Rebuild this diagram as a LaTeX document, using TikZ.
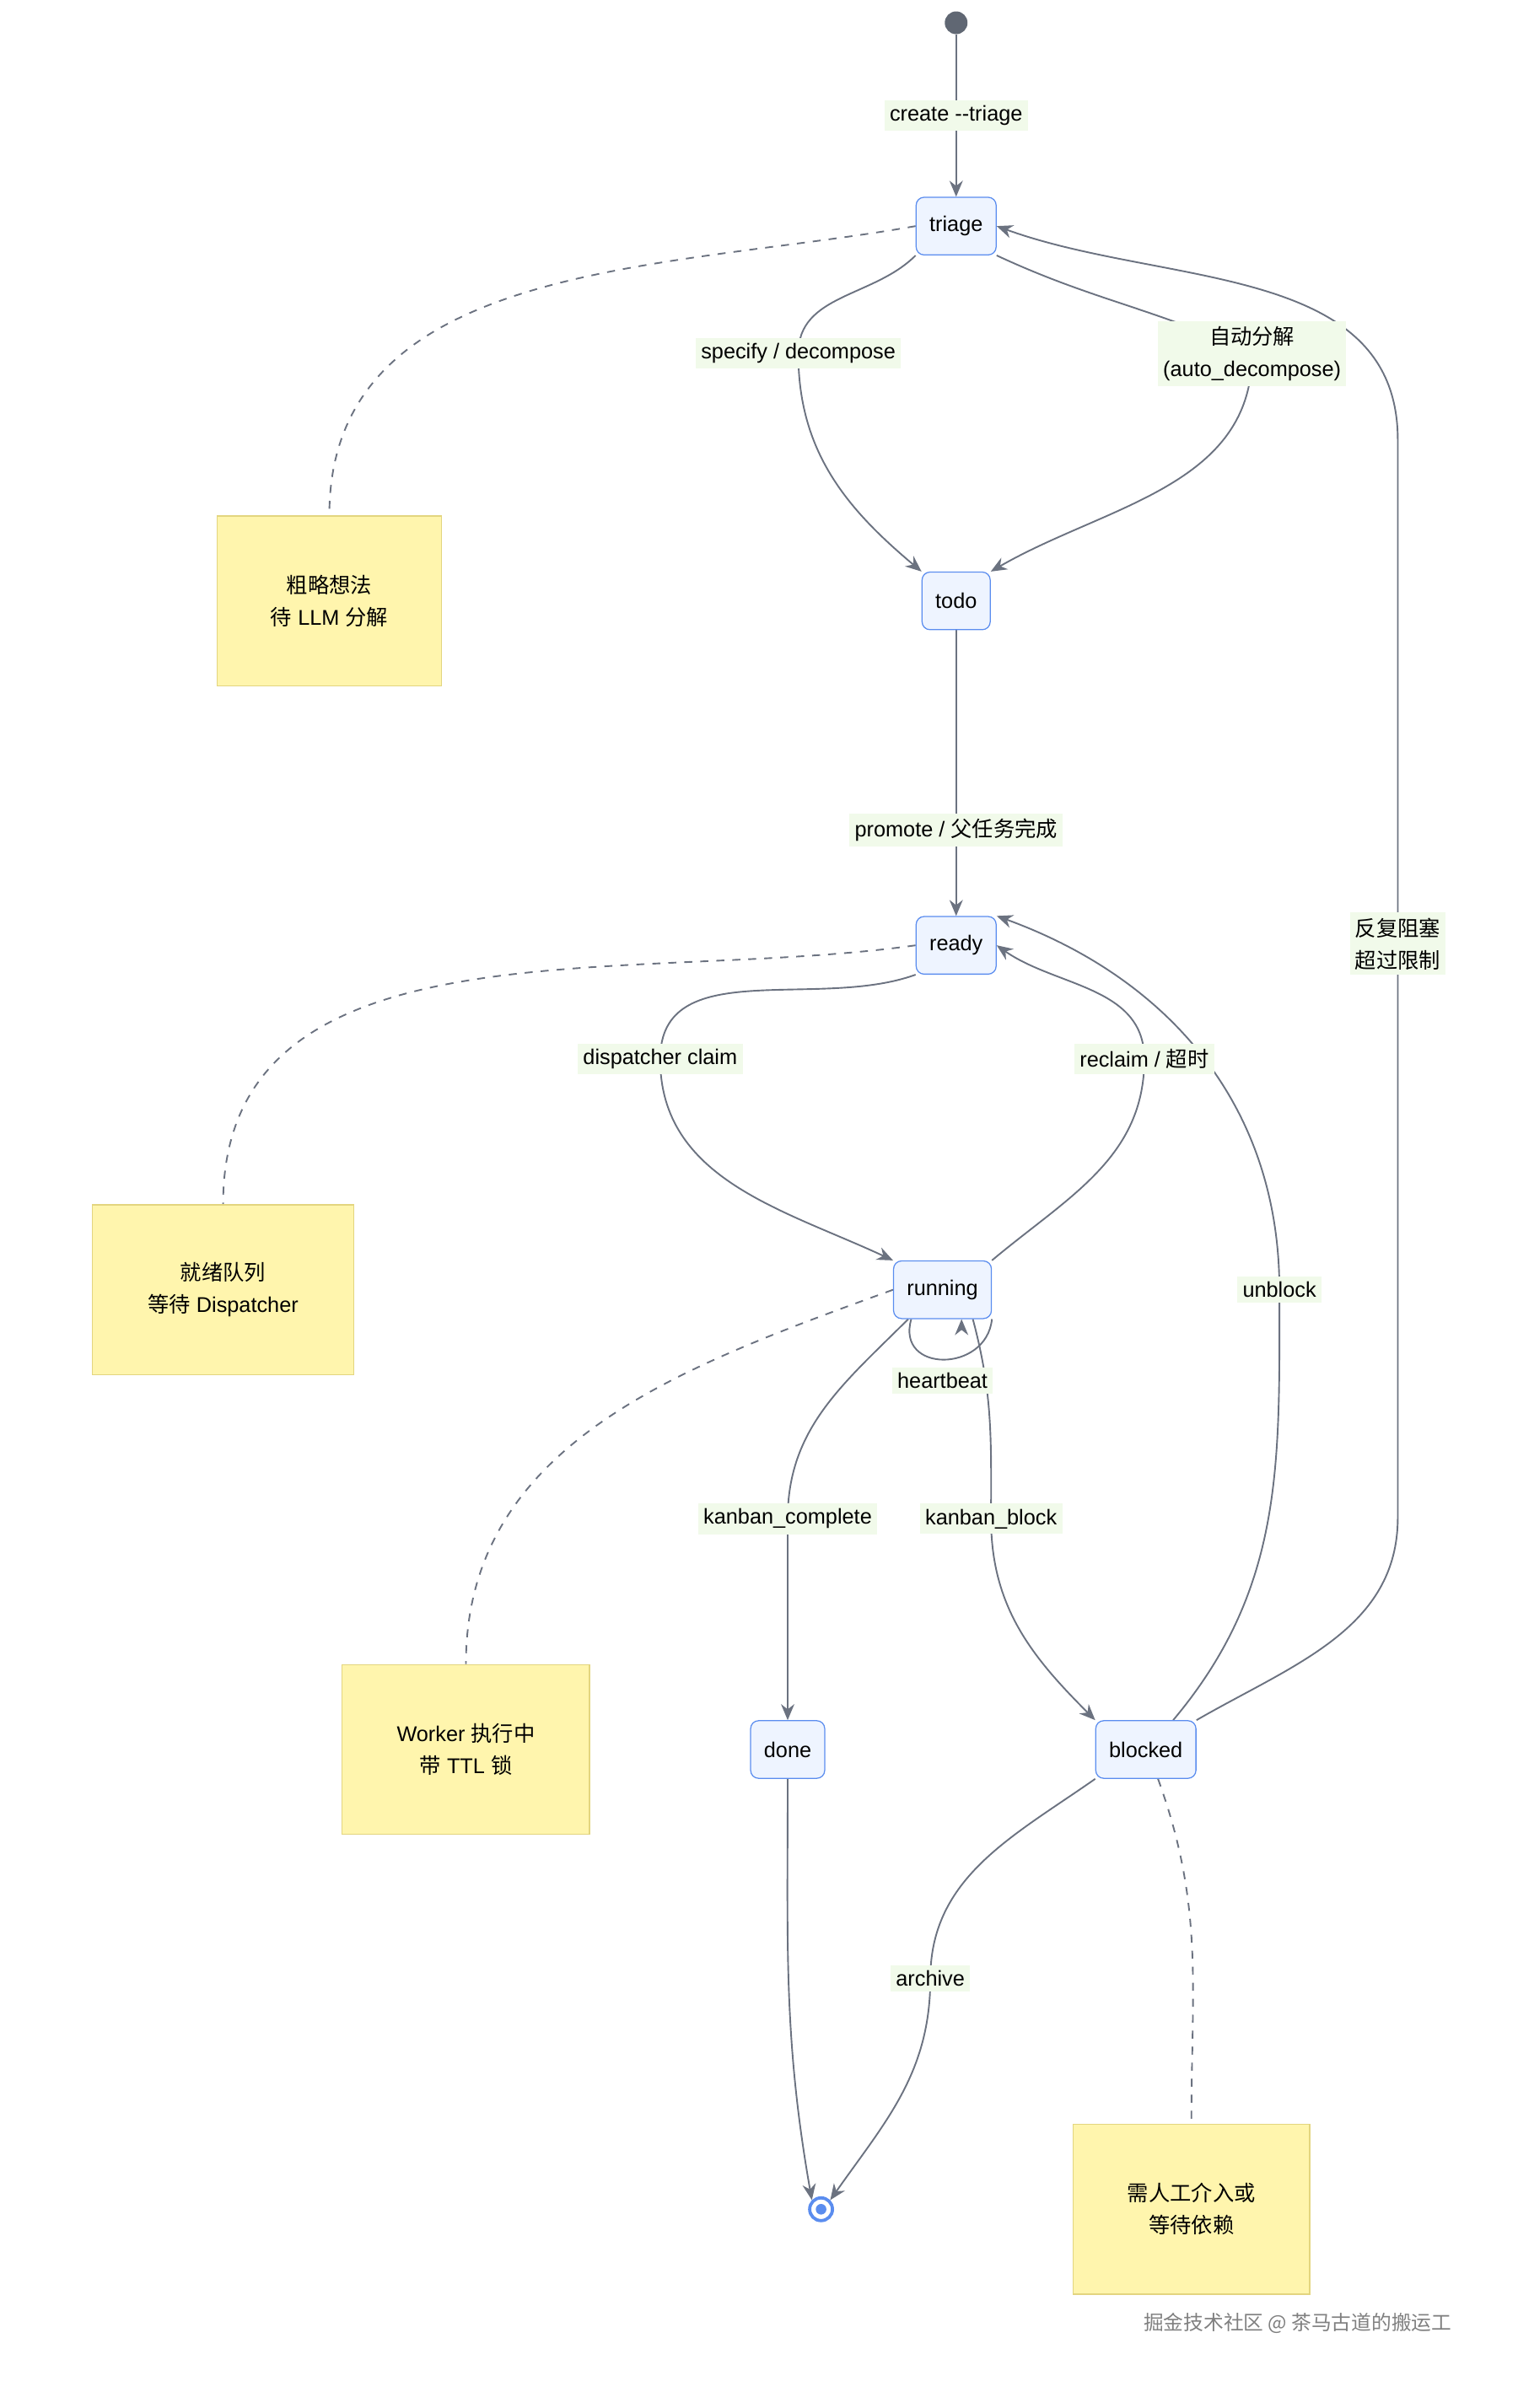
\documentclass[tikz,border=0pt]{standalone}
\usepackage{fontspec}
\setmainfont{Liberation Sans}
\newfontfamily\cjk{Noto Sans CJK SC}
\usetikzlibrary{arrows.meta,backgrounds}
\definecolor{edgecol}{HTML}{6B7280}
\definecolor{statefill}{HTML}{EEF4FF}
\definecolor{statedraw}{HTML}{5B8DEF}
\definecolor{notefill}{HTML}{FFF5AD}
\definecolor{notedraw}{HTML}{E3D57F}
\definecolor{lblfill}{HTML}{F1FAEA}
\tikzset{
  state/.style={draw=statedraw, fill=statefill, rounded corners=3pt, minimum height=0.76cm, inner xsep=5pt, font=\fontsize{8}{10}\selectfont},
  note/.style={draw=notedraw, fill=notefill, align=center, font=\fontsize{8}{12}\selectfont},
  lbl/.style={fill=lblfill, inner sep=2pt, align=center, font=\fontsize{8}{12}\selectfont},
  flow/.style={draw=edgecol, line width=0.6pt, -{Stealth[length=6pt,width=5pt]}},
  link/.style={draw=edgecol, line width=0.6pt, dashed},
}
\begin{document}
\begin{tikzpicture}[x=0.02cm,y=-0.02cm]
  \useasboundingbox (0,0) rectangle (1000,1587);
  % states
  \node[circle, fill=edgecol!90!black, minimum size=0.3cm, inner sep=0] (start) at (630,15) {};
  \node[state] (triage) at (630,149) {triage};
  \node[state] (todo) at (630,396) {todo};
  \node[state] (ready) at (630,623) {ready};
  \node[state] (running) at (621,850) {running};
  \node[state] (done) at (519,1153) {done};
  \node[state] (blocked) at (755,1153) {blocked};
  \node[circle, draw=statedraw, line width=1.2pt, fill=white, minimum size=0.3cm, inner sep=0] (stop) at (541,1456) {};
  \node[circle, fill=statedraw, minimum size=0.14cm, inner sep=0] at (stop) {};
  % notes
  \node[note, minimum width=2.96cm, minimum height=2.24cm] (n1) at (217,396) {{\cjk 粗略想法}\\{\cjk 待} LLM {\cjk 分解}};
  \node[note, minimum width=3.44cm, minimum height=2.24cm] (n2) at (147,850) {{\cjk 就绪队列}\\{\cjk 等待} Dispatcher};
  \node[note, minimum width=3.26cm, minimum height=2.24cm] (n3) at (307,1153) {Worker {\cjk 执行中}\\{\cjk 带} TTL {\cjk 锁}};
  \node[note, minimum width=3.12cm, minimum height=2.24cm] (n4) at (785,1456) {{\cjk 需人工介入或}\\{\cjk 等待依赖}};
  % labels
  \node[lbl] (lcreate) at (630,76) {create -{}-triage};
  \node[lbl] (lspec) at (526,233) {specify / decompose};
  \node[lbl] (lauto) at (825,233) {{\cjk 自动分解}\\(auto\_decompose)};
  \node[lbl] (lrep) at (921,622) {{\cjk 反复阻塞}\\{\cjk 超过限制}};
  \node[lbl] (lprom) at (630,547) {promote / {\cjk 父任务完成}};
  \node[lbl] (ldisp) at (435,698) {dispatcher claim};
  \node[lbl] (lrecl) at (754,698) {reclaim / {\cjk 超时}};
  \node[lbl] (lunbl) at (843,850) {unblock};
  \node[lbl] (lheart) at (621,910) {heartbeat};
  \node[lbl] (lcomp) at (519,1001) {kanban\_complete};
  \node[lbl] (lblock) at (653,1001) {kanban\_block};
  \node[lbl] (larch) at (613,1304) {archive};
  \node[text=gray, font=\fontsize{7.5}{9}\selectfont\cjk] (mark) at (855,1531) {掘金技术社区 @ 茶马古道的搬运工};
  \begin{scope}[on background layer]
    \draw[flow] (start) -- (triage);
    \draw[flow] (triage.south west) to[out=225,in=90] (lspec.center) to[out=270,in=140] (todo.north west);
    \draw[flow] (triage.south east) to[out=-25,in=155] (lauto.center) to[out=270,in=30] (todo.north east);
    \draw[flow] (todo) -- (ready);
    \draw[flow] (ready.south west) to[out=200,in=90] (ldisp.center) to[out=270,in=155] (running.north west);
    \draw[flow] (running.north east) to[out=40,in=270] (lrecl.center) to[out=90,in=-35] (ready.east);
    \draw[flow] (blocked.north) ++(18,0) to[out=50,in=270] (lunbl.center) to[out=90,in=-20] (ready.north east);
    \draw[flow] (running.south west) ++(12,0) .. controls (590,905) and (650,905) .. (running.south east) ++(-20,0);
    \draw[flow] (running.south west) ++(10,0) to[out=225,in=90] (lcomp.center) -- (done);
    \draw[flow] (running.south) ++(20,0) to[out=-75,in=90] (lblock.center) to[out=270,in=135] (blocked.north west);
    \draw[flow] (done) to[out=270,in=100] (stop.north west);
    \draw[flow] (blocked.south west) to[out=215,in=90] (larch.center) to[out=270,in=55] (stop.north east);
    \draw[flow] (blocked.north east) to[out=30,in=270] (921,1000) -- (lrep.center) -- (921,290) to[out=90,in=-20] (triage.east);
    \draw[link] (triage.west) to[out=190,in=90] (n1.north);
    \draw[link] (ready.west) to[out=188,in=90] (n2.north);
    \draw[link] (running.west) to[out=200,in=90] (n3.north);
    \draw[link] (blocked.south) ++(8,0) to[out=-70,in=90] (n4.north);
  \end{scope}
\end{tikzpicture}
\end{document}
